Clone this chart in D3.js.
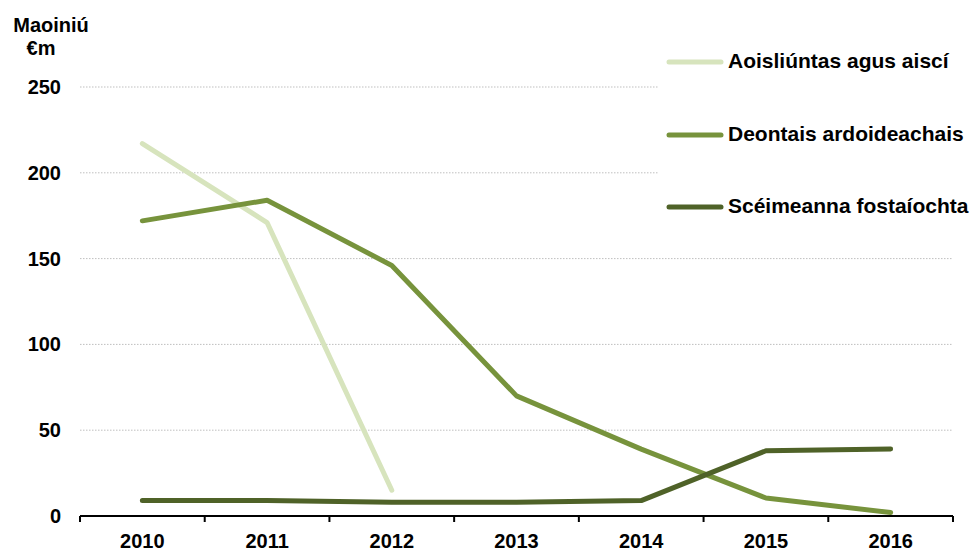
<!DOCTYPE html>
<html><head><meta charset="utf-8">
<script src="https://cdn.jsdelivr.net/npm/d3@7"></script>
<style>body{margin:0;background:#fff;}svg{display:block;font-family:"Liberation Sans",Arial,sans-serif;font-weight:bold;}</style>
</head><body><svg id="c" width="973" height="552"></svg>
<script>
const years = ["2010","2011","2012","2013","2014","2015","2016"];
const yTicks = [0,50,100,150,200,250];
const seriesNames = ["Aoisliúntas agus aiscí","Deontais ardoideachais","Scéimeanna fostaíochta"];
const aoisliuntas = [217,171,15,null,null,null,null];
const deontais = [172,184,146,70,39,10.5,2];
const sceimeanna = [9,9,8,8,9,38,39];
const colors = ["#d7e4bd","#77933c","#4f6228"];

const svg = d3.select("#c");
const x = d3.scaleBand().domain(years).range([80,953]);
const y = d3.scaleLinear().domain([0,250]).range([516,87]);

// gridlines
const gridRight = v => v >= 200 ? 658 : 953;
svg.append("g").selectAll("line").data(yTicks.filter(d=>d>0)).join("line")
  .attr("x1",80).attr("x2",d=>gridRight(d)).attr("y1",d=>y(d)).attr("y2",d=>y(d))
  .attr("stroke","#bfbfbf").attr("stroke-width",1).attr("stroke-dasharray","1.5,1.5");

// y labels
svg.append("g").selectAll("text").data(yTicks).join("text")
  .attr("x",61).attr("y",d=>y(d)+7).attr("text-anchor","end")
  .attr("font-size",20).text(d=>d);
svg.append("text").attr("x",51).attr("y",32).attr("text-anchor","middle").attr("font-size",20).text("Maoiniú");
svg.append("text").attr("x",41).attr("y",55).attr("text-anchor","middle").attr("font-size",20).text("€m");

// x axis
const xAxis = d3.axisBottom(x).tickSize(0).tickPadding(0);
const gx = svg.append("g").attr("transform","translate(0,516)").call(xAxis);
gx.select(".domain").remove();
gx.selectAll("text").attr("dy",null).attr("y",32).attr("font-size",20).attr("font-family","Liberation Sans, Arial, sans-serif").attr("font-weight","bold").attr("fill","#000");
svg.append("line").attr("x1",80).attr("x2",953).attr("y1",516).attr("y2",516).attr("stroke","#000").attr("stroke-width",2);
const bounds = years.map(d=>x(d)).concat([x.range()[1]]);
svg.append("g").selectAll("line").data(bounds).join("line")
  .attr("x1",d=>d).attr("x2",d=>d).attr("y1",516).attr("y2",522).attr("stroke","#000").attr("stroke-width",2);

// lines
const line = d3.line().defined(d=>d.v!=null).x(d=>x(d.k)+x.bandwidth()/2).y(d=>y(d.v));
[aoisliuntas,deontais,sceimeanna].forEach((s,i)=>{
  svg.append("path").datum(years.map((k,j)=>({k,v:s[j]})))
    .attr("d",line).attr("fill","none").attr("stroke",colors[i]).attr("stroke-width",5)
    .attr("stroke-linecap","round").attr("stroke-linejoin","round");
});

// legend
const legY = [62,135,207];
const lg = svg.append("g").selectAll("g").data(seriesNames).join("g");
lg.append("line").attr("x1",669).attr("x2",721).attr("y1",(d,i)=>legY[i]).attr("y2",(d,i)=>legY[i])
  .attr("stroke",(d,i)=>colors[i]).attr("stroke-width",5).attr("stroke-linecap","round");
lg.append("text").attr("x",728).attr("y",(d,i)=>legY[i]+6).attr("font-size",21).text(d=>d);
</script></body></html>
